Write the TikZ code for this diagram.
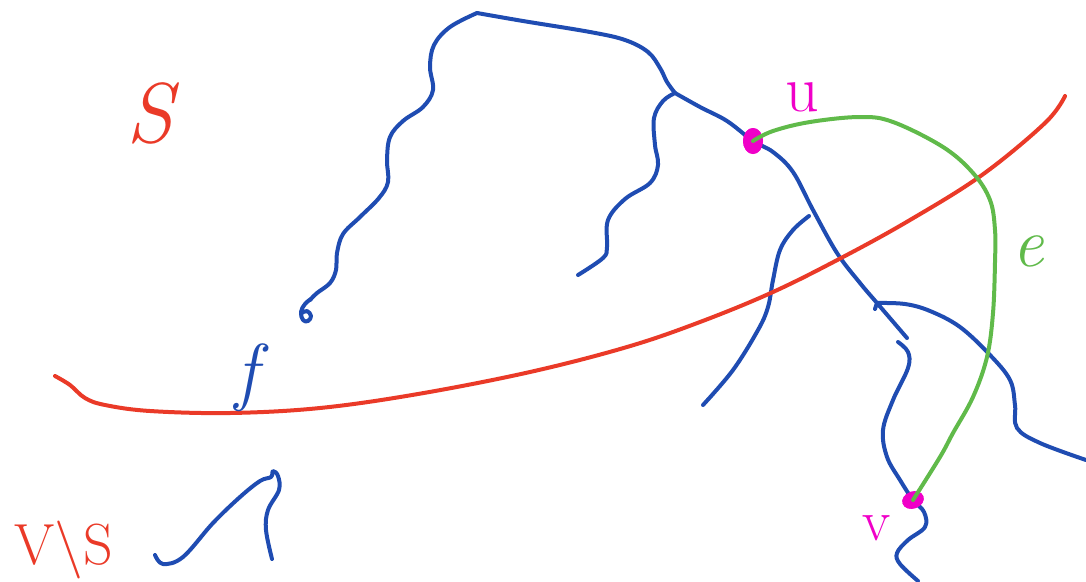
\documentclass[tikz,border=0pt]{standalone}
\usetikzlibrary{shapes.geometric}
\definecolor{penblue}{RGB}{31,76,178}
\definecolor{penred}{RGB}{234,58,40}
\definecolor{pengreen}{RGB}{96,186,74}
\definecolor{penmag}{RGB}{240,0,200}
\tikzset{
  bluestroke/.style={draw=penblue,line width=4pt,line cap=round,line join=round},
  redstroke/.style={draw=penred,line width=4pt,line cap=round,line join=round},
  greenstroke/.style={draw=pengreen,line width=4pt,line cap=round,line join=round},
  vdot/.style={ellipse,fill=penmag,inner sep=0pt},
  udotsize/.style={minimum width=20pt,minimum height=26pt},
  vdotsize/.style={minimum width=22pt,minimum height=17pt,rotate=20},
  lab/.style={inner sep=0pt,anchor=center}
}
\begin{document}
\begin{tikzpicture}[x=1pt,y=-1pt]
\useasboundingbox (0,0) rectangle (1086,581);
% vertices
\node[vdot,udotsize] (u) at (753,141) {};
\node[vdot,vdotsize] (v) at (913,500) {};
\coordinate (top) at (477,13);
\coordinate (j1) at (675,93);
\coordinate (j2) at (877,303);
% blue tree
\draw[bluestroke] plot[smooth,tension=0.6] coordinates {(top) (450,27) (434,45) (430,67) (433,90) (423,107) (403,121) (390,137) (387,160) (388,182) (379,198) (360,217) (343,234) (337,253) (336,270) (330,283) (317,293) (310,300)};
\draw[bluestroke] plot[smooth,tension=0.7] coordinates {(311,299) (305,304) (301,312) (303,320) (308,321) (311,316) (307,311) (302,313)};
\draw[bluestroke] plot[smooth,tension=0.6] coordinates {(top) (523,21) (590,32) (625,40) (648,52) (660,68) (667,82) (j1)};
\draw[bluestroke] plot[smooth,tension=0.6] coordinates {(j1) (700,107) (727,121) (u.center) (773,152) (793,172) (813,210) (837,253) (860,283) (j2) (907,338)};
\draw[bluestroke] plot[smooth,tension=0.6] coordinates {(j1) (663,101) (654,118) (655,145) (658,165) (650,183) (625,199) (608,220) (607,247) (603,258) (578,275)};
\draw[bluestroke] plot[smooth,tension=0.6] coordinates {(j2) (905,304) (930,311) (960,327) (990,355) (1010,380) (1015,405) (1017,428) (1040,443) (1086,460)};
\draw[bluestroke] (j2) -- ++(-2,6);
\draw[bluestroke] plot[smooth,tension=0.6] coordinates {(898,342) (908,352) (908,368) (893,400) (883,430) (887,457) (900,480) (v.center) (924,512) (925,527) (908,540) (897,553) (900,564) (918,581)};
\draw[bluestroke] plot[smooth,tension=0.6] coordinates {(809,216) (793,230) (780,250) (773,280) (768,307) (758,330) (733,370) (703,405)};
\draw[bluestroke] plot[smooth,tension=0.6] coordinates {(155,555) (163,564) (183,557) (213,523) (240,497) (260,481) (271,477) (273,471) (278,476) (279,490) (268,510) (266,530) (272,559)};
% red cut f
\draw[redstroke] plot[smooth,tension=0.6] coordinates {(55,376) (70,385) (85,398) (105,405) (150,411) (230,413) (320,408) (418,394) (530,372) (627,347) (700,322) (773,292) (843,257) (910,220) (982,175) (1045,123) (1065,96)};
% vertex dots above the tree
\node[vdot,udotsize] at (u) {};
\node[vdot,vdotsize] at (v) {};
% green edge e
\draw[greenstroke] plot[smooth,tension=0.6] coordinates {(u.center) (773,131) (810,122) (860,117) (893,122) (943,147) (973,173) (990,200) (995,230) (995,262) (993,313) (987,357) (973,397) (953,433) (940,457) (v.center)};
% labels
\node[lab,text=penred,font=\fontsize{85}{85}\selectfont\itshape] (S) at (150,113) {S};
\node[lab,text=penmag,font=\fontsize{66}{66}\selectfont] (ulab) at (802,97) {u};
\node[lab,text=penmag,font=\fontsize{58}{58}\selectfont] (vlab) at (877,528) {v};
\node[lab,text=pengreen,font=\fontsize{70}{70}\selectfont\itshape] (elab) at (1028,251) {e};
\node[lab,text=penblue,font=\fontsize{75}{75}\selectfont\itshape] (flab) at (247,378) {f};
\node[lab,text=penred,font=\fontsize{58}{58}\selectfont] (VS) at (64,550) {V\textbackslash S};
\end{tikzpicture}
\end{document}
